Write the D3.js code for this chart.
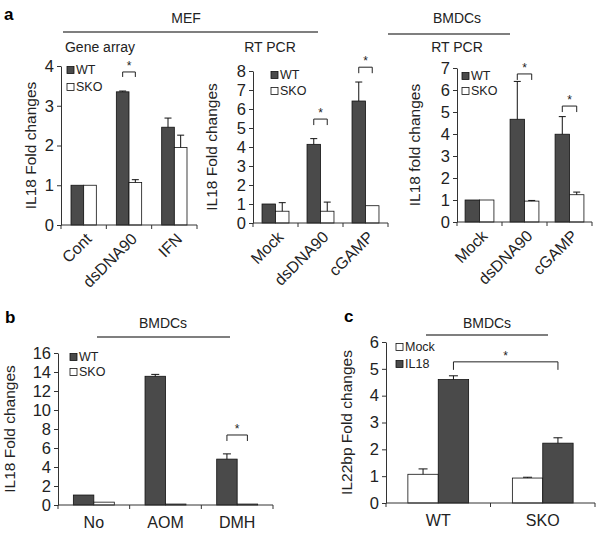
<!DOCTYPE html>
<html><head><meta charset="utf-8">
<script src="https://cdn.jsdelivr.net/npm/d3@7/dist/d3.min.js"></script>
<style>
html,body{margin:0;padding:0;background:#fff;}
svg{display:block;font-family:"Liberation Sans",Arial,sans-serif;}
</style></head>
<body><svg id="c" width="604" height="537"></svg>
<script>
// ---------- DATA ----------
const a1Categories = ["Cont", "dsDNA90", "IFN"];
const a1WT = [1.0, 3.35, 2.46];
const a1WTErr = [0, 0.02, 0.23];
const a1SKO = [1.0, 1.07, 1.95];
const a1SKOErr = [0, 0.07, 0.31];
const a1YTicks = [0, 1, 2, 3, 4];

const a2Categories = ["Mock", "dsDNA90", "cGAMP"];
const a2WT = [1.0, 4.14, 6.42];
const a2WTErr = [0, 0.3, 1.0];
const a2SKO = [0.62, 0.62, 0.91];
const a2SKOErr = [0.45, 0.48, 0];
const a2YTicks = [0, 1, 2, 3, 4, 5, 6, 7, 8];

const a3Categories = ["Mock", "dsDNA90", "cGAMP"];
const a3WT = [1.0, 4.67, 3.99];
const a3WTErr = [0, 1.72, 0.8];
const a3SKO = [1.0, 0.95, 1.24];
const a3SKOErr = [0, 0.03, 0.12];
const a3YTicks = [0, 1, 2, 3, 4, 5, 6, 7];

const bCategories = ["No", "AOM", "DMH"];
const bWT = [1.05, 13.55, 4.83];
const bWTErr = [0, 0.2, 0.55];
const bSKO = [0.3, 0.1, 0.1];
const bSKOErr = [0, 0, 0];
const bYTicks = [0, 2, 4, 6, 8, 10, 12, 14, 16];

const cCategories = ["WT", "SKO"];
const cMock = [1.07, 0.93];
const cMockErr = [0.2, 0.03];
const cIL18 = [4.6, 2.23];
const cIL18Err = [0.14, 0.2];
const cYTicks = [0, 1, 2, 3, 4, 5, 6];

// significance brackets (category, level in data units)
const a1Sig = [{cat: "dsDNA90", level: 3.85}];
const a2Sig = [{cat: "dsDNA90", level: 5.47}, {cat: "cGAMP", level: 8.2}];
const a3Sig = [{cat: "dsDNA90", level: 6.73}, {cat: "cGAMP", level: 5.27}];
const bSig = [{cat: "DMH", level: 7.37}];
const cSig = [{from: "WT", to: "SKO", series: "IL18", level: 5.26}];

// ---------- STYLE ----------
const DARK = "#4a4a4a";
const LIGHT = "#ffffff";
const AX = "#333";
const svg = d3.select("#c");

function panel(o) {
  const g = svg.append("g");
  const y = d3.scaleLinear().domain([0, o.max]).range([o.y0, o.yTop]);
  const x = d3.scaleBand().domain(o.cats).range([o.x0, o.x1]).padding(0);
  const inner = d3.scaleBand().domain(o.series.map(s => s.name))
    .range([0, x.bandwidth()]).paddingInner(0).paddingOuter(o.pad);

  // y axis
  const ya = g.append("g").attr("transform", `translate(${o.x0},0)`)
    .call(d3.axisLeft(y).tickValues(o.ticks).tickFormat(d3.format("d"))
      .tickSize(4).tickSizeOuter(0).tickPadding(3));
  ya.select(".domain").attr("stroke", AX);
  ya.selectAll(".tick line").attr("stroke", AX);
  ya.selectAll("text").attr("font-size", 16.5).attr("fill", "#222")
    .attr("font-family", "Liberation Sans, Arial, sans-serif");

  // bars
  o.series.forEach(s => {
    g.selectAll(null).data(o.cats).enter().append("rect")
      .attr("x", c => x(c) + inner(s.name))
      .attr("y", (c, i) => y(s.vals[i]))
      .attr("width", inner.bandwidth())
      .attr("height", (c, i) => y(0) - y(s.vals[i]))
      .attr("fill", s.fill).attr("stroke", "#111").attr("stroke-width", 0.8);
    // error bars
    o.cats.forEach((c, i) => {
      const e = s.err[i];
      if (!e) return;
      const cx = x(c) + inner(s.name) + inner.bandwidth() / 2;
      g.append("line").attr("x1", cx).attr("x2", cx)
        .attr("y1", y(s.vals[i])).attr("y2", y(s.vals[i] + e))
        .attr("stroke", "#111").attr("stroke-width", 1);
      g.append("line").attr("x1", cx - o.cap / 2).attr("x2", cx + o.cap / 2)
        .attr("y1", y(s.vals[i] + e)).attr("y2", y(s.vals[i] + e))
        .attr("stroke", "#111").attr("stroke-width", 1);
    });
  });

  // x axis
  g.append("line").attr("x1", o.x0).attr("x2", o.x1).attr("y1", o.y0).attr("y2", o.y0)
    .attr("stroke", AX);
  const edges = o.cats.map(c => x(c)).concat([x.range()[1]]);
  g.selectAll(null).data(edges).enter().append("line")
    .attr("x1", d => d).attr("x2", d => d).attr("y1", o.y0).attr("y2", o.y0 + 4)
    .attr("stroke", AX);

  // category labels
  if (o.rot) {
    g.selectAll(null).data(o.cats).enter().append("text")
      .attr("transform", c => `translate(${x(c) + x.bandwidth() / 2 + 5},${o.y0 + 11}) rotate(-45)`)
      .attr("text-anchor", "end").attr("dy", "0.35em")
      .attr("font-size", 16).attr("fill", "#222").text(c => c);
  } else {
    g.selectAll(null).data(o.cats).enter().append("text")
      .attr("x", c => x(c) + x.bandwidth() / 2).attr("y", o.y0 + 23)
      .attr("text-anchor", "middle").attr("font-size", 16).attr("fill", "#222").text(c => c);
  }

  // y title
  g.append("text").attr("transform", `translate(${o.ytX},${(o.y0 + o.yTop) / 2}) rotate(-90)`)
    .attr("text-anchor", "middle").attr("font-size", 15.5).attr("fill", "#222").text(o.ytitle);

  // legend
  o.series.forEach((s, i) => {
    const ly = o.leg[1] + i * o.legGap;
    g.append("rect").attr("x", o.leg[0]).attr("y", ly - 3.5).attr("width", 7).attr("height", 7)
      .attr("fill", s.fill).attr("stroke", "#111").attr("stroke-width", 0.8);
    g.append("text").attr("x", o.leg[0] + 9).attr("y", ly).attr("dy", "0.35em")
      .attr("font-size", 12.5).attr("fill", "#222").text(s.name);
  });

  // significance
  const sname = o.series.map(s => s.name);
  (o.sig || []).forEach(sg => {
    let xa, xb;
    if (sg.cat) {
      xa = x(sg.cat) + inner(sname[0]) + inner.bandwidth() / 2;
      xb = x(sg.cat) + inner(sname[1]) + inner.bandwidth() / 2;
    } else {
      xa = x(sg.from) + inner(sg.series) + inner.bandwidth() / 2;
      xb = x(sg.to) + inner(sg.series) + inner.bandwidth() / 2;
    }
    const ly = y(sg.level);
    const leg = o.sigLeg;
    g.append("path").attr("d", `M${xa},${ly + leg}V${ly}H${xb}V${ly + leg}`)
      .attr("fill", "none").attr("stroke", "#222").attr("stroke-width", 1);
    g.append("text").attr("x", (xa + xb) / 2).attr("y", ly - 2)
      .attr("text-anchor", "middle").attr("font-size", 12).attr("fill", "#222").text("*");
  });
}

panel({cats: a1Categories, max: 4, ticks: a1YTicks, x0: 61, x1: 197, y0: 225, yTop: 66, pad: 0.79, cap: 7,
  series: [{name: "WT", vals: a1WT, err: a1WTErr, fill: DARK}, {name: "SKO", vals: a1SKO, err: a1SKOErr, fill: LIGHT}],
  rot: true, ytitle: "IL18 Fold changes", ytX: 36, leg: [67, 70], legGap: 17, sig: a1Sig, sigLeg: 5});
panel({cats: a2Categories, max: 8, ticks: a2YTicks, x0: 253, x1: 388, y0: 223, yTop: 71, pad: 0.67, cap: 7,
  series: [{name: "WT", vals: a2WT, err: a2WTErr, fill: DARK}, {name: "SKO", vals: a2SKO, err: a2SKOErr, fill: LIGHT}],
  rot: true, ytitle: "IL18 Fold changes", ytX: 217, leg: [271, 75], legGap: 16, sig: a2Sig, sigLeg: 6});
panel({cats: a3Categories, max: 7, ticks: a3YTicks, x0: 457, x1: 592, y0: 222, yTop: 68, pad: 0.56, cap: 7,
  series: [{name: "WT", vals: a3WT, err: a3WTErr, fill: DARK}, {name: "SKO", vals: a3SKO, err: a3SKOErr, fill: LIGHT}],
  rot: true, ytitle: "IL18 fold changes", ytX: 420, leg: [462, 76], legGap: 15, sig: a3Sig, sigLeg: 6});
panel({cats: bCategories, max: 16, ticks: bYTicks, x0: 58, x1: 273, y0: 505, yTop: 353, pad: 0.75, cap: 8,
  series: [{name: "WT", vals: bWT, err: bWTErr, fill: DARK}, {name: "SKO", vals: bSKO, err: bSKOErr, fill: LIGHT}],
  rot: false, ytitle: "IL18 Fold changes", ytX: 15, leg: [70, 357], legGap: 15, sig: bSig, sigLeg: 6});
panel({cats: cCategories, max: 6, ticks: cYTicks, x0: 386, x1: 595, y0: 503, yTop: 342, pad: 0.72, cap: 9,
  series: [{name: "Mock", vals: cMock, err: cMockErr, fill: LIGHT}, {name: "IL18", vals: cIL18, err: cIL18Err, fill: DARK}],
  rot: false, ytitle: "IL22bp Fold changes", ytX: 352, leg: [396, 347], legGap: 17, sig: cSig, sigLeg: 8});

// headers
function head(txt, xx, yy, size, weight) {
  svg.append("text").attr("x", xx).attr("y", yy).attr("text-anchor", "middle")
    .attr("font-size", size).attr("font-weight", weight || "normal").attr("fill", "#222").text(txt);
}
function rule(xa, xb, yy) {
  svg.append("line").attr("x1", xa).attr("x2", xb).attr("y1", yy).attr("y2", yy)
    .attr("stroke", "#555").attr("stroke-width", 1.5);
}
svg.append("text").attr("x", 4).attr("y", 20).attr("font-size", 17).attr("font-weight", "bold").text("a");
svg.append("text").attr("x", 5).attr("y", 323).attr("font-size", 17).attr("font-weight", "bold").text("b");
svg.append("text").attr("x", 344).attr("y", 322).attr("font-size", 17).attr("font-weight", "bold").text("c");
head("MEF", 186, 23, 14); rule(63, 318, 32);
head("Gene array", 100, 52, 14); head("RT PCR", 270, 52, 14);
head("BMDCs", 457, 23, 14); rule(388, 510, 34); head("RT PCR", 457, 52, 14);
head("BMDCs", 163, 328, 14); rule(97, 230, 337);
head("BMDCs", 487, 328, 14); rule(426, 548, 335);
</script></body></html>
